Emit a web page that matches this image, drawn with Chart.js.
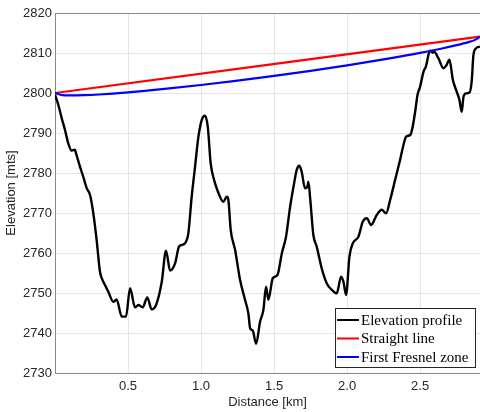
<!DOCTYPE html>
<html>
<head>
<meta charset="utf-8">
<script src="https://cdn.jsdelivr.net/npm/chart.js@4.4.1/dist/chart.umd.min.js"></script>
<style>
  html, body { margin: 0; padding: 0; background: #fff; }
  #wrap { width: 480px; height: 412px; }
</style>
</head>
<body>
<div id="wrap"><canvas id="profileChart" width="480" height="412"></canvas></div>
<script>
// distance along the path [km] and ground elevation [m]
const distKm = [
  0, 0.023, 0.046, 0.068, 0.091, 0.114, 0.137, 0.144, 0.171, 0.194,
  0.217, 0.24, 0.262, 0.285, 0.308, 0.32, 0.342, 0.365, 0.4, 0.422,
  0.457, 0.486, 0.514, 0.548, 0.571, 0.6, 0.632, 0.662, 0.692, 0.731,
  0.76, 0.788, 0.822, 0.849, 0.868, 0.897, 0.913, 0.936, 0.959, 0.982,
  1.005, 1.027, 1.046, 1.066, 1.089, 1.119, 1.153, 1.176, 1.187, 1.203,
  1.233, 1.267, 1.301, 1.324, 1.336, 1.354, 1.377, 1.404, 1.427, 1.445,
  1.461, 1.491, 1.523, 1.553, 1.582, 1.61, 1.637, 1.655, 1.673, 1.689,
  1.712, 1.728, 1.735, 1.747, 1.769, 1.792, 1.826, 1.861, 1.895, 1.929,
  1.959, 1.975, 1.993, 2.016, 2.039, 2.078, 2.107, 2.135, 2.164, 2.203,
  2.237, 2.267, 2.295, 2.329, 2.363, 2.386, 2.404, 2.432, 2.447, 2.466,
  2.482, 2.5, 2.523, 2.541, 2.557, 2.568, 2.586, 2.596, 2.625, 2.66,
  2.678, 2.701, 2.724, 2.751, 2.769, 2.785, 2.797, 2.815, 2.838, 2.854,
  2.865, 2.884, 2.91
];
const elevation = [
  2799.6, 2797, 2793.7, 2790.8, 2787.4, 2785.6, 2785.8, 2784.9, 2781.6, 2779,
  2776.2, 2774.5, 2770, 2763.3, 2755.3, 2753.7, 2752, 2750.3, 2747.8, 2748.4,
  2744.1, 2744.1, 2751.2, 2746.4, 2747, 2746.4, 2748.9, 2745.9, 2747, 2752.8,
  2760.6, 2755.6, 2757.4, 2761.6, 2762, 2762.8, 2764.9, 2774.1, 2781.6, 2789.1,
  2793.3, 2794.3, 2791.6, 2782.4, 2778.3, 2775, 2772.8, 2774.1, 2773.3, 2765.8,
  2760.8, 2753.3, 2748.3, 2744.9, 2741.2, 2740.6, 2737.3, 2742.8, 2745.8, 2751.6,
  2748.3, 2753.7, 2754.5, 2759.9, 2764.1, 2771.6, 2777.4, 2780.8, 2781.8, 2780.3,
  2776.2, 2776.6, 2777.8, 2773.7, 2764.5, 2761.6, 2756.2, 2752.4, 2750.8, 2749.9,
  2754.1, 2752.8, 2749.5, 2759.1, 2762.4, 2764.1, 2767.8, 2768.7, 2767, 2769.5,
  2770.8, 2769.9, 2773.3, 2778.3, 2783.3, 2787, 2789.1, 2789.5, 2791.2, 2795.3,
  2799.5, 2801.6, 2805.3, 2806.8, 2809.5, 2810.6, 2810.1, 2810.3, 2808.7, 2806.2,
  2806.8, 2808.3, 2803.3, 2800.3, 2798.3, 2795.3, 2799.1, 2799.9, 2800.1, 2803.3,
  2809.5, 2811.2, 2811.6
];

// line of sight between the two antennas
const losKm = [0, 2.91];
const losElev = [2800, 2814.1];

// lower edge of the first Fresnel zone
const fresnelKm = [0, 0.05, 0.1, 0.2, 0.3, 0.5, 0.75, 1, 1.25, 1.5, 1.75, 2, 2.25, 2.5, 2.65, 2.75, 2.83, 2.88, 2.91];
const fresnelElev = [2800, 2799.46, 2799.39, 2799.45, 2799.63, 2800.16, 2801.01, 2802, 2803.09, 2804.27,
  2805.54, 2806.91, 2808.39, 2810.02, 2811.13, 2811.96, 2812.73, 2813.34, 2814.1];

const xTicks = [0.5, 1, 1.5, 2, 2.5];
const yTicks = [2730, 2740, 2750, 2760, 2770, 2780, 2790, 2800, 2810, 2820];

const seriesNames = ['Elevation profile', 'Straight line', 'First Fresnel zone'];
const seriesColors = ['#000000', '#ff0000', '#0000ff'];

function toPoints(xs, ys) {
  return xs.map((x, i) => ({ x: x, y: ys[i] }));
}

// top edge of the axes box + MATLAB style legend in the lower right corner
const boxLegend = {
  id: 'boxLegend',
  afterDraw(chart) {
    const c = chart.ctx;
    const area = chart.chartArea;
    c.save();
    c.strokeStyle = '#888888';
    c.lineWidth = 1;
    c.beginPath();
    c.moveTo(area.left, area.top + 0.5);
    c.lineTo(area.right, area.top + 0.5);
    c.stroke();

    const w = 140, h = 59;
    const left = area.right - w - 5;
    const top = area.bottom - h - 6;
    c.fillStyle = '#fff';
    c.fillRect(left, top, w, h);
    c.strokeStyle = '#262626';
    c.strokeRect(left + 0.5, top + 0.5, w, h);
    c.font = '15px "Liberation Serif", "Times New Roman", serif';
    c.textBaseline = 'middle';
    seriesNames.forEach((name, i) => {
      const y = top + 12 + i * 18.5;
      c.strokeStyle = seriesColors[i];
      c.lineWidth = 2;
      c.beginPath();
      c.moveTo(left + 2, y);
      c.lineTo(left + 24, y);
      c.stroke();
      c.fillStyle = '#000';
      c.fillText(name, left + 26, y + 1);
    });
    c.restore();
  }
};

const ctx = document.getElementById('profileChart').getContext('2d');
const profileChart = new Chart(ctx, {
  type: 'line',
  data: {
    datasets: [
      { label: seriesNames[0], data: toPoints(distKm, elevation), borderColor: seriesColors[0], borderWidth: 2.4, order: 3 },
      { label: seriesNames[1], data: toPoints(losKm, losElev), borderColor: seriesColors[1], borderWidth: 2.2, order: 2 },
      { label: seriesNames[2], data: toPoints(fresnelKm, fresnelElev), borderColor: seriesColors[2], borderWidth: 2.2, order: 1 }
    ]
  },
  options: {
    responsive: false,
    animation: false,
    parsing: false,
    elements: { point: { radius: 0 }, line: { cubicInterpolationMode: 'monotone' } },
    layout: { padding: { top: 13, right: 0, left: 0, bottom: 0 } },
    plugins: { legend: { display: false }, tooltip: { enabled: false } },
    scales: {
      x: {
        type: 'linear',
        min: 0,
        max: 2.91,
        afterBuildTicks: axis => { axis.ticks = xTicks.map(v => ({ value: v })); },
        afterFit: axis => { axis.height = 39; },
        grid: { color: '#e5e5e5', drawTicks: false },
        border: { color: '#888888' },
        ticks: { color: '#262626', padding: 6, maxRotation: 0, font: { family: 'Liberation Sans, Arial', size: 13 } },
        title: { display: true, text: 'Distance [km]', color: '#262626', padding: { top: 0, bottom: 2 }, font: { family: 'Liberation Sans, Arial', size: 13 } }
      },
      y: {
        min: 2730,
        max: 2820,
        afterBuildTicks: axis => { axis.ticks = yTicks.map(v => ({ value: v })); },
        afterFit: axis => { axis.width = 55; },
        grid: { color: '#e5e5e5', drawTicks: false },
        border: { color: '#888888' },
        ticks: { color: '#262626', padding: 3, callback: v => String(v), font: { family: 'Liberation Sans, Arial', size: 13 } },
        title: { display: true, text: 'Elevation [mts]', color: '#262626', padding: { top: 4, bottom: 0 }, font: { family: 'Liberation Sans, Arial', size: 13 } }
      }
    }
  },
  plugins: [boxLegend]
});
</script>
</body>
</html>
